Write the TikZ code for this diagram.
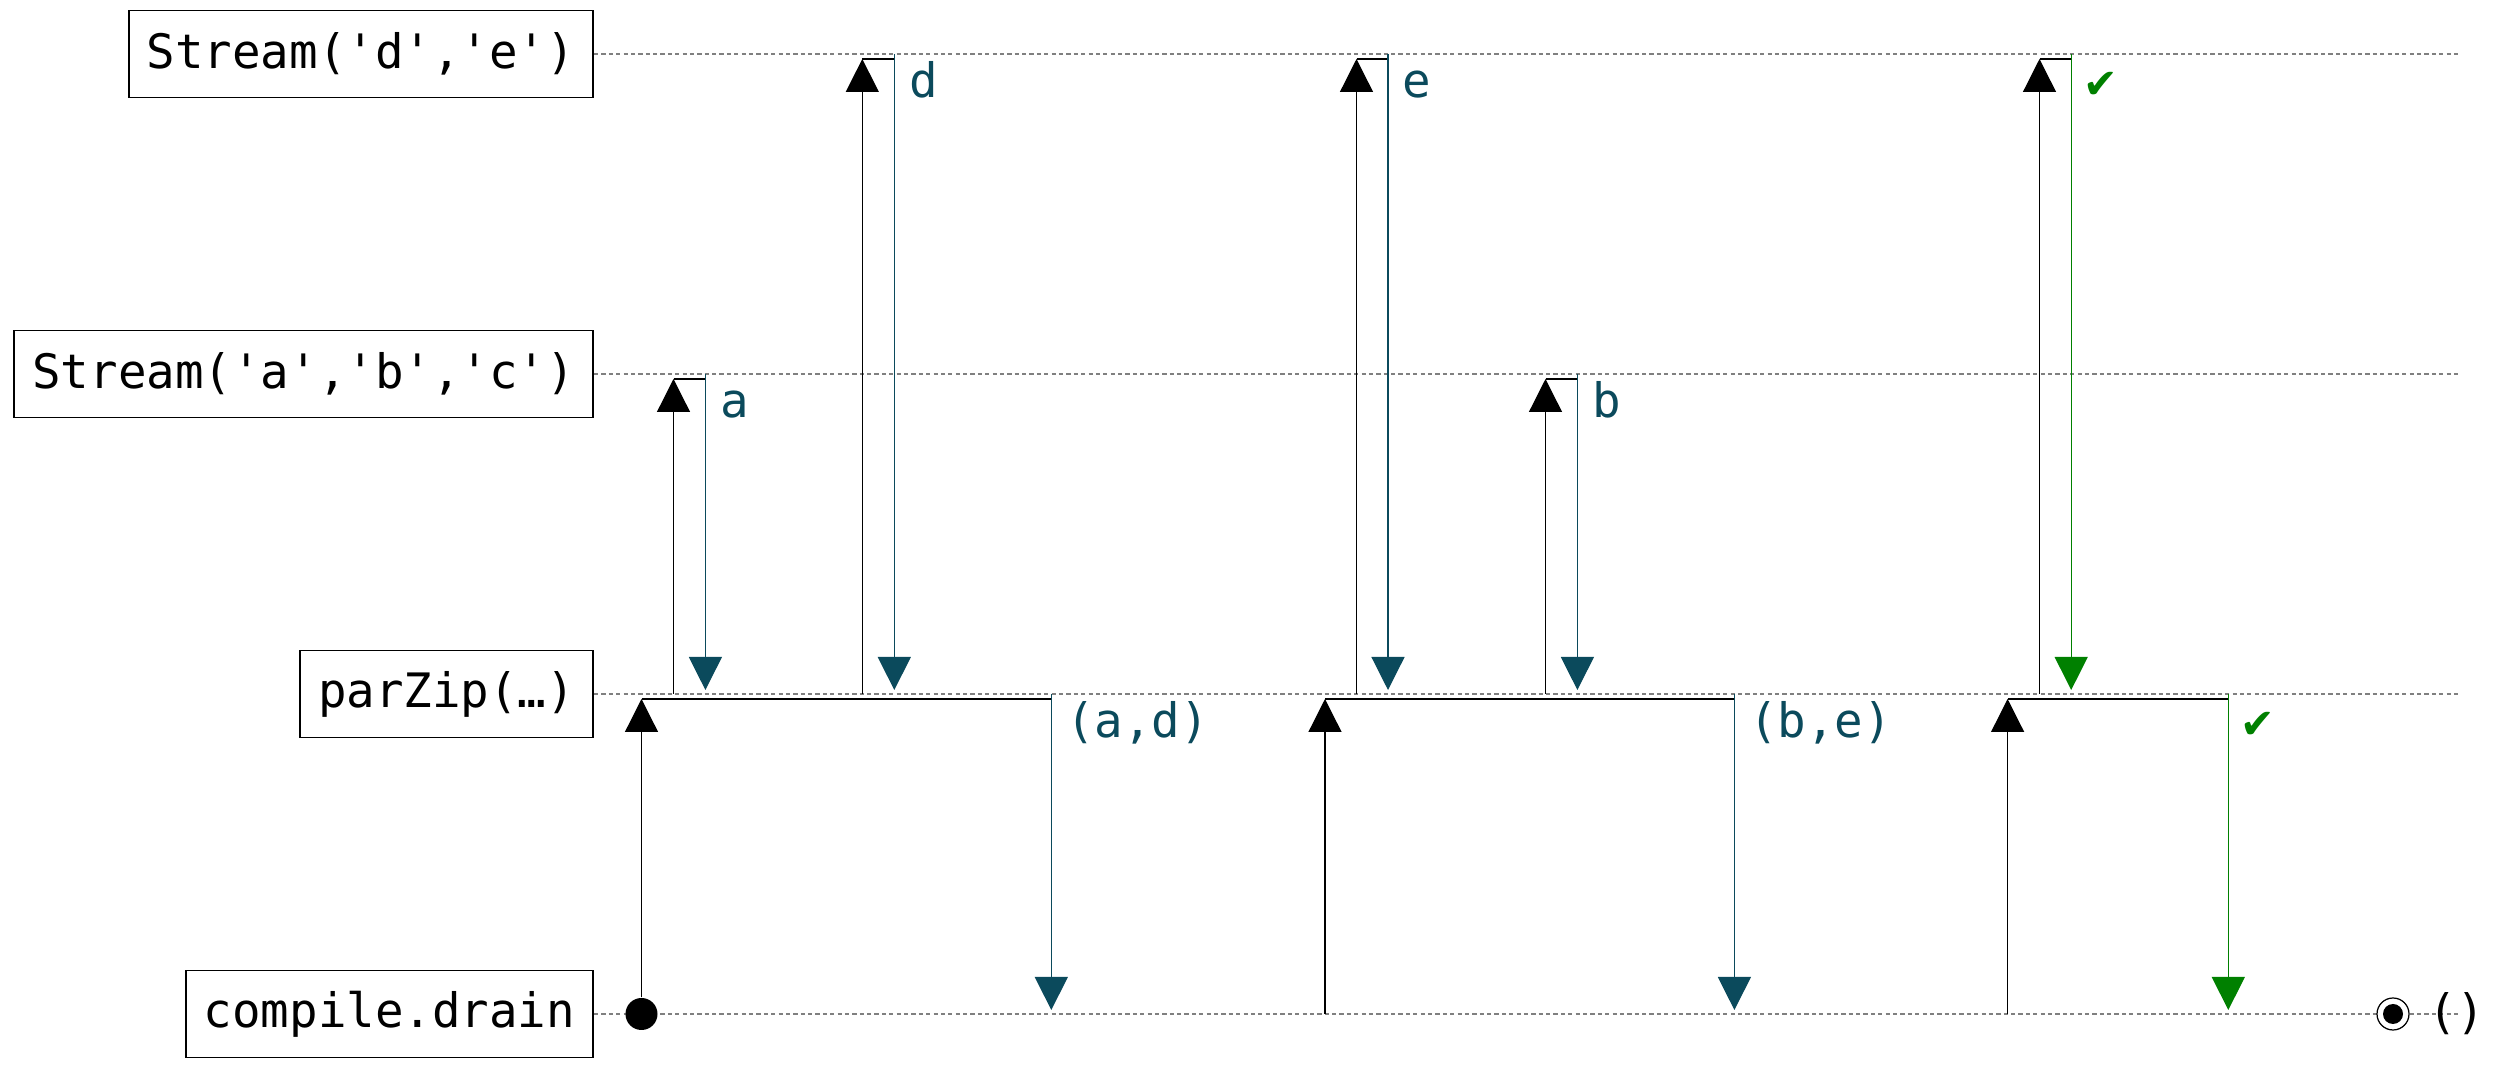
\documentclass[tikz,border=0pt]{standalone}
\usepackage{fontspec}
\setmonofont{DejaVu Sans Mono}
\usepackage{xcolor}
\usetikzlibrary{positioning, arrows.meta}

\definecolor{msgteal}{HTML}{0B4A5C}
\definecolor{okgreen}{HTML}{008000}

\begin{document}
\begin{tikzpicture}[
    font=\ttfamily\fontsize{13.5}{16}\selectfont,
    actor/.style    = {draw, line width=0.5pt, anchor=east, inner xsep=1.8mm,
                       minimum height=8.7mm},
    life/.style     = {gray, line width=0.5pt, dash pattern=on 1.2pt off 0.9pt},
    req/.style      = {-{Triangle[length=3.3mm, width=3.3mm]}, line width=0.35pt,
                       shorten >=0.5mm},
    hook/.style     = {line width=0.5pt},
    resp/.style     = {-{Triangle[length=3.3mm, width=3.3mm]}, line width=0.35pt,
                       msgteal, shorten >=0.4mm},
    done/.style     = {resp, okgreen},
    lbl/.style      = {anchor=base west, inner sep=0pt, xshift=1.4mm, yshift=-3.9mm,
                       text=msgteal},
    oklbl/.style    = {lbl, text=okgreen},
    startdot/.style = {circle, fill, inner sep=0pt, minimum size=3.2mm},
    enddot/.style   = {circle, draw, fill=white, inner sep=0pt, minimum size=3.2mm,
                       line width=0.35pt,
                       path picture={\fill[black] (path picture bounding box.center) circle (1mm);}},
  ]
    \useasboundingbox (0,0) rectangle (24.93,10.68);

    % --- actors ---
    \node[actor] (sde)   at (5.94,10.14) {Stream('d','e')};
    \node[actor] (sabc)  at (5.94, 6.94) {Stream('a','b','c')};
    \node[actor] (pzip)  at (5.94, 3.74) {parZip(…)};
    \node[actor] (drain) at (5.94, 0.54) {compile.drain};

    % --- lifelines ---
    \coordinate (rim) at (24.59,0);
    \draw[life] (sde.east)   -- (sde.east -| rim);
    \draw[life] (sabc.east)  -- (sabc.east -| rim);
    \draw[life] (pzip.east)  -- (pzip.east -| rim);
    \draw[life] (drain.east) -- (drain.east -| rim);

    % --- first pull: (a,d) ---
    \node[startdot] (q1) at (6.415,0.54) {};
    \coordinate (r1) at (10.513,3.74);
    \coordinate (q2) at (6.735,3.74);   \coordinate (r2) at (7.054,6.94);
    \coordinate (q3) at (8.623,3.74);   \coordinate (r3) at (8.943,10.14);

    \draw[req]  (q1) -- (q1 |- pzip);
    \draw[hook] ([yshift=-0.5mm] q1 |- pzip) -- ([yshift=-0.5mm] r1) node[lbl] {(a,d)};
    \draw[resp] (r1) -- (r1 |- drain);

    \draw[req]  (q2) -- (q2 |- sabc);
    \draw[hook] ([yshift=-0.5mm] q2 |- sabc) -- ([yshift=-0.5mm] r2) node[lbl] {a};
    \draw[resp] (r2) -- (r2 |- pzip);

    \draw[req]  (q3) -- (q3 |- sde);
    \draw[hook] ([yshift=-0.5mm] q3 |- sde) -- ([yshift=-0.5mm] r3) node[lbl] {d};
    \draw[resp] (r3) -- (r3 |- pzip);

    % --- second pull: (b,e) ---
    \coordinate (q4) at (13.250,0.54);  \coordinate (r4) at (17.344,3.74);
    \coordinate (q5) at (13.565,3.74);  \coordinate (r5) at (13.880,10.14);
    \coordinate (q6) at (15.455,3.74);  \coordinate (r6) at (15.774,6.94);

    \draw[req]  (q4) -- (q4 |- pzip);
    \draw[hook] ([yshift=-0.5mm] q4 |- pzip) -- ([yshift=-0.5mm] r4) node[lbl] {(b,e)};
    \draw[resp] (r4) -- (r4 |- drain);

    \draw[req]  (q5) -- (q5 |- sde);
    \draw[hook] ([yshift=-0.5mm] q5 |- sde) -- ([yshift=-0.5mm] r5) node[lbl] {e};
    \draw[resp] (r5) -- (r5 |- pzip);

    \draw[req]  (q6) -- (q6 |- sabc);
    \draw[hook] ([yshift=-0.5mm] q6 |- sabc) -- ([yshift=-0.5mm] r6) node[lbl] {b};
    \draw[resp] (r6) -- (r6 |- pzip);

    % --- third pull: completion ---
    \coordinate (q7) at (20.076,0.54);  \coordinate (r7) at (22.283,3.74);
    \coordinate (q8) at (20.395,3.74);  \coordinate (r8) at (20.712,10.14);

    \draw[req]  (q7) -- (q7 |- pzip);
    \draw[hook] ([yshift=-0.5mm] q7 |- pzip) -- ([yshift=-0.5mm] r7) node[oklbl] {✔};
    \draw[done] (r7) -- (r7 |- drain);

    \draw[req]  (q8) -- (q8 |- sde);
    \draw[hook] ([yshift=-0.5mm] q8 |- sde) -- ([yshift=-0.5mm] r8) node[oklbl] {✔};
    \draw[done] (r8) -- (r8 |- pzip);

    % --- end of the drain ---
    \node[enddot] (stop) at (23.93,0.54) {};
    \node[right=1.8mm of stop, inner sep=0pt] (unit) {()};
  \end{tikzpicture}
\end{document}
